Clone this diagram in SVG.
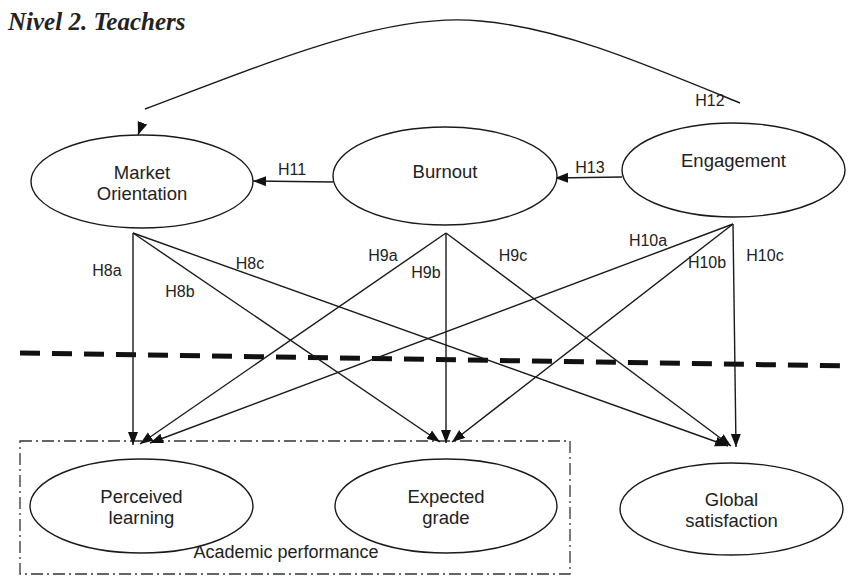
<svg xmlns="http://www.w3.org/2000/svg" width="850" height="576" viewBox="0 0 850 576">
<style>
.node ellipse{fill:#fff;stroke:#1a1a1a;stroke-width:1.4}
.nt{font-family:"Liberation Sans",Arial,sans-serif;font-size:18.5px;fill:#222;text-anchor:middle}
.lb{font-family:"Liberation Sans",Arial,sans-serif;font-size:16px;fill:#222;text-anchor:middle}
.c{fill:none;stroke:#1a1a1a;stroke-width:1.4;marker-end:url(#ah)}
</style>
<defs>
<marker id="ah" markerUnits="userSpaceOnUse" markerWidth="15" markerHeight="11" refX="13" refY="5" orient="auto">
<path d="M0,0 L13,5 L0,10 Z" fill="#111"/>
</marker>
</defs>
<rect width="850" height="576" fill="#fff"/>
<text x="8" y="30" font-family="'Liberation Serif','Times New Roman',serif" font-size="25" font-weight="bold" font-style="italic" fill="#222">Nivel 2. Teachers</text>

<line x1="20" y1="353" x2="848" y2="366" stroke="#111" stroke-width="5" stroke-dasharray="20 12"/>
<rect x="20" y="441" width="550" height="133" fill="none" stroke="#333" stroke-width="1.3" stroke-dasharray="12 4 2 4"/>
<text x="286" y="558" font-family="'Liberation Sans',Arial,sans-serif" font-size="18" fill="#222" text-anchor="middle">Academic performance</text>

<g id="connectors">
<path class="c" d="M740,103 C640,62 560,28 480,21 C390,12 280,58 145,109" style="marker-end:none"/>
<path class="c" d="M142,124 L138,135"/>
<path class="c" d="M333,182 L253,181"/>
<path class="c" d="M622,177 L555,178"/>
<path class="c" d="M133,233 L133,445"/>
<path class="c" d="M133,233 L440,442"/>
<path class="c" d="M133,233 L728,446"/>
<path class="c" d="M446,233 L140,444"/>
<path class="c" d="M446,233 L446,443"/>
<path class="c" d="M446,233 L731,446"/>
<path class="c" d="M733,224 L150,443"/>
<path class="c" d="M733,224 L452,442"/>
<path class="c" d="M733,224 L736,447"/>
<text class="lb" x="710" y="106">H12</text>
<text class="lb" x="292" y="175">H11</text>
<text class="lb" x="590" y="173">H13</text>
<text class="lb" x="107" y="276">H8a</text>
<text class="lb" x="180" y="297">H8b</text>
<text class="lb" x="250" y="269">H8c</text>
<text class="lb" x="383" y="261">H9a</text>
<text class="lb" x="426" y="278">H9b</text>
<text class="lb" x="513" y="261">H9c</text>
<text class="lb" x="648" y="246">H10a</text>
<text class="lb" x="707" y="268">H10b</text>
<text class="lb" x="765" y="261">H10c</text>
</g>

<g id="market-orientation" class="node">
<ellipse cx="142" cy="181.5" rx="111" ry="46.5"/>
<text class="nt" x="142" y="179">Market</text>
<text class="nt" x="142" y="200">Orientation</text>
</g>
<g id="burnout" class="node">
<ellipse cx="445" cy="176" rx="112" ry="49"/>
<text class="nt" x="445" y="178">Burnout</text>
</g>
<g id="engagement" class="node">
<ellipse cx="733.5" cy="170" rx="111.5" ry="47"/>
<text class="nt" x="733.5" y="167">Engagement</text>
</g>
<g id="perceived-learning" class="node">
<ellipse cx="141.5" cy="506" rx="111.5" ry="47"/>
<text class="nt" x="141.5" y="503">Perceived</text>
<text class="nt" x="141.5" y="524">learning</text>
</g>
<g id="expected-grade" class="node">
<ellipse cx="446" cy="506" rx="111" ry="47"/>
<text class="nt" x="446" y="503">Expected</text>
<text class="nt" x="446" y="524">grade</text>
</g>
<g id="global-satisfaction" class="node">
<ellipse cx="731.5" cy="509" rx="111.5" ry="46"/>
<text class="nt" x="731.5" y="506">Global</text>
<text class="nt" x="731.5" y="527">satisfaction</text>
</g>
</svg>
